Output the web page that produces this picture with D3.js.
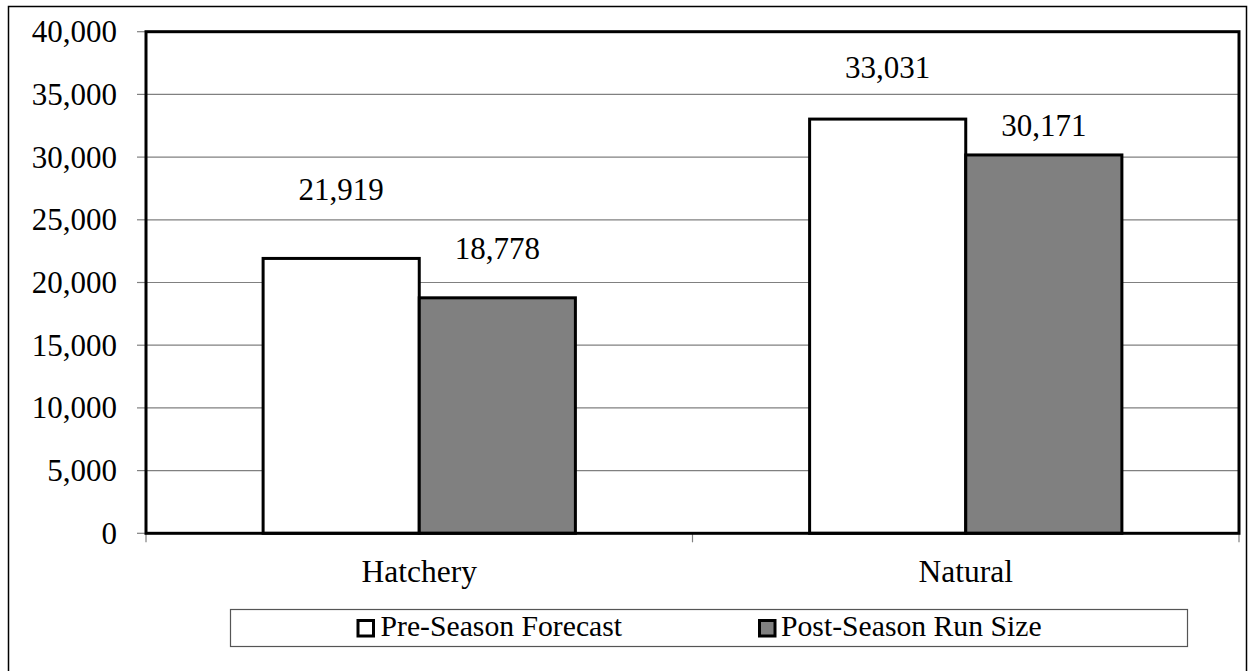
<!DOCTYPE html>
<html>
<head>
<meta charset="utf-8">
<script src="https://cdn.jsdelivr.net/npm/d3@7"></script>
<style>
  html, body { margin: 0; padding: 0; background: #fff; }
</style>
</head>
<body>
<svg id="chart" width="1248" height="671"></svg>
<script>
// Run sizes by origin
const categories = ["Hatchery", "Natural"];
const seriesNames = ["Pre-Season Forecast", "Post-Season Run Size"];
const preSeason = [21919, 33031];
const postSeason = [18778, 30171];
const yTicks = [0, 5000, 10000, 15000, 20000, 25000, 30000, 35000, 40000];

const seriesFill = ["#ffffff", "#808080"];
// extra lift of each value label above its bar (px), per category then series
const labelLift = [[58, 39], [41, 19]];

const plot = { left: 146, top: 31.7, right: 1239, bottom: 533.3 };
const fmt = d3.format(",");

const svg = d3.select("#chart");

// outer chart frame
svg.append("rect")
  .attr("x", 8.5).attr("y", 6.5)
  .attr("width", 1238).attr("height", 680)
  .attr("fill", "none").attr("stroke", "#000").attr("stroke-width", 1.5);

const x0 = d3.scaleBand().domain(categories).range([plot.left, plot.right]).paddingInner(0).paddingOuter(0);
const y = d3.scaleLinear().domain([0, 40000]).range([plot.bottom, plot.top]);

// bars take 2 of 3.5 band units (gap width 150%)
const barW = x0.bandwidth() / 3.5;
const x1 = d3.scaleBand().domain(seriesNames).range([0, 2 * barW]);

// gridlines
svg.append("g")
  .selectAll("line")
  .data(yTicks.filter(t => t > 0))
  .join("line")
  .attr("x1", plot.left).attr("x2", plot.right)
  .attr("y1", d => y(d)).attr("y2", d => y(d))
  .attr("stroke", "#808080").attr("stroke-width", 1.2);

// y axis ticks and labels
const gy = svg.append("g");
gy.selectAll("line")
  .data(yTicks)
  .join("line")
  .attr("x1", plot.left - 9).attr("x2", plot.left)
  .attr("y1", d => y(d)).attr("y2", d => y(d))
  .attr("stroke", "#808080").attr("stroke-width", 1.2);
gy.selectAll("text")
  .data(yTicks)
  .join("text")
  .attr("x", plot.left - 29)
  .attr("y", d => y(d))
  .attr("dy", "0.34em")
  .attr("text-anchor", "end")
  .attr("font-family", "Times New Roman")
  .attr("font-size", 31)
  .attr("fill", "#000")
  .text(d => fmt(d));

// x axis: tick marks at category boundaries
const xBounds = [plot.left, ...categories.map(c => x0(c) + x0.bandwidth())];
svg.append("g")
  .selectAll("line")
  .data(xBounds)
  .join("line")
  .attr("x1", d => d).attr("x2", d => d)
  .attr("y1", plot.bottom).attr("y2", plot.bottom + 9)
  .attr("stroke", "#808080").attr("stroke-width", 1.2);

svg.append("g")
  .selectAll("text")
  .data(categories)
  .join("text")
  .attr("x", d => x0(d) + x0.bandwidth() / 2)
  .attr("y", 582)
  .attr("text-anchor", "middle")
  .attr("font-family", "Times New Roman")
  .attr("font-size", 31.5)
  .attr("fill", "#000")
  .text(d => d);

// bars
const rows = categories.map((c, i) => ({ cat: c, i, vals: [preSeason[i], postSeason[i]] }));
const groups = svg.append("g")
  .selectAll("g")
  .data(rows)
  .join("g")
  .attr("transform", d => `translate(${x0(d.cat) + (x0.bandwidth() - 2 * barW) / 2},0)`);

groups.selectAll("rect")
  .data(d => d.vals.map((v, s) => ({ v, s, name: seriesNames[s] })))
  .join("rect")
  .attr("x", d => x1(d.name))
  .attr("y", d => y(d.v))
  .attr("width", barW)
  .attr("height", d => y(0) - y(d.v))
  .attr("fill", d => seriesFill[d.s])
  .attr("stroke", "#000")
  .attr("stroke-width", 3);

// value labels
groups.selectAll("text")
  .data(d => d.vals.map((v, s) => ({ v, s, name: seriesNames[s], lift: labelLift[d.i][s] })))
  .join("text")
  .attr("x", d => x1(d.name) + barW / 2)
  .attr("y", d => y(d.v) - d.lift)
  .attr("text-anchor", "middle")
  .attr("font-family", "Times New Roman")
  .attr("font-size", 31)
  .attr("fill", "#000")
  .text(d => fmt(d.v));

// plot area frame
svg.append("rect")
  .attr("x", plot.left).attr("y", plot.top)
  .attr("width", plot.right - plot.left).attr("height", plot.bottom - plot.top)
  .attr("fill", "none").attr("stroke", "#000").attr("stroke-width", 3);

// legend
const legend = svg.append("g");
legend.append("rect")
  .attr("x", 230.5).attr("y", 609.5)
  .attr("width", 957).attr("height", 37)
  .attr("fill", "#fff").attr("stroke", "#555").attr("stroke-width", 1.2);

const legendItems = [
  { name: seriesNames[0], fill: seriesFill[0], mx: 358, tx: 380.5 },
  { name: seriesNames[1], fill: seriesFill[1], mx: 759.5, tx: 781 }
];
const li = legend.selectAll("g.item").data(legendItems).join("g").attr("class", "item");
li.append("rect")
  .attr("x", d => d.mx).attr("y", 620.5)
  .attr("width", 15.5).attr("height", 15.5)
  .attr("fill", d => d.fill).attr("stroke", "#000").attr("stroke-width", 3);
li.append("text")
  .attr("x", d => d.tx).attr("y", 636)
  .attr("font-family", "Times New Roman")
  .attr("font-size", 29.7)
  .attr("fill", "#000")
  .text(d => d.name);
</script>
</body>
</html>
